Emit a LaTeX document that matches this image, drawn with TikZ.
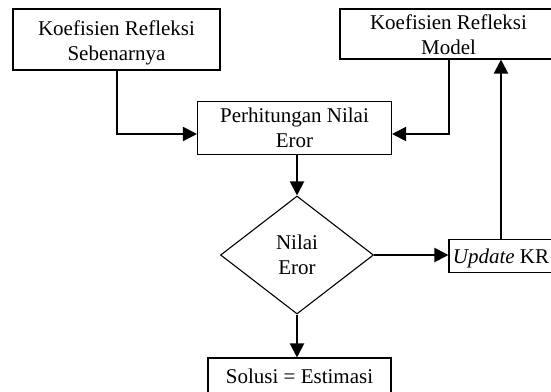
\documentclass[tikz,border=0pt]{standalone}
\usepackage{fontspec}
\setmainfont{Liberation Serif}
\usetikzlibrary{arrows.meta,shapes.geometric}
\begin{document}
\begin{tikzpicture}[x=1pt,y=-1pt,
  box/.style={draw,line width=1.1pt,inner sep=0pt,align=center,font=\fontsize{21}{25}\selectfont},
  dmd/.style={draw,diamond,line width=1.1pt,inner sep=0pt,align=center,font=\fontsize{21}{25}\selectfont},
  arr/.style={line width=2pt,-{Triangle[length=14pt,width=14pt]}},
  ln/.style={line width=2pt}]
\useasboundingbox[fill=white] (0,0) rectangle (551,391);
\node[box,minimum width=207pt,minimum height=61pt] (b1) at (116.5,39.5) {\rule{0pt}{20.6pt}Koefisien Refleksi\\Sebenarnya};
\node[box,minimum width=217pt,minimum height=50pt] (b3) at (448.5,34) {\rule{0pt}{17pt}Koefisien Refleksi\\Model};
\node[box,minimum width=194pt,minimum height=52.6pt] (b2) at (294.5,128) {Perhitungan Nilai\\Eror};
\node[dmd,minimum width=153pt,minimum height=118pt] (dia) at (297,255) {Nilai\\Eror};
\node[box,minimum width=104pt,minimum height=33pt] (upd) at (501,256) {\rule{0pt}{18.7pt}\textit{Update} KR};
\node[box,minimum width=183pt,minimum height=36pt] (sol) at (299.5,376) {Solusi = Estimasi};
\draw[arr] (b1.south) |- ([yshift=-6pt]b2.west);
\draw[arr] (b3.south) |- ([yshift=-6pt]b2.east);
\draw[arr] (dia.north |- b2.south) -- (dia.north);
\draw[arr] (dia.east) -- (dia.east -| upd.west);
\draw[arr] (upd.north) -- (upd.north |- b3.south);
\draw[arr] (dia.south) -- (dia.south |- sol.north);
\end{tikzpicture}
\end{document}
